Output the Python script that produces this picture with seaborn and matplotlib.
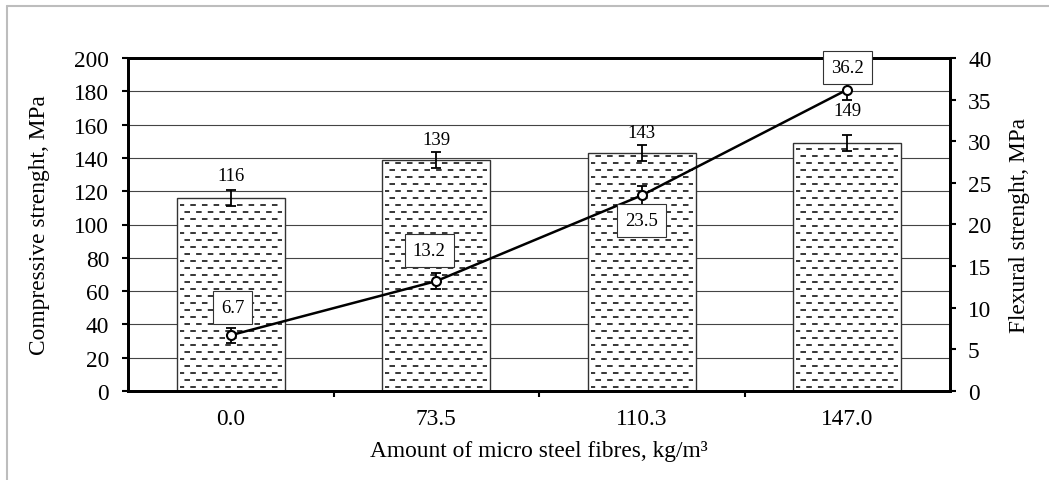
import numpy as np
import pandas as pd
import matplotlib
matplotlib.use('Agg')
import matplotlib.pyplot as plt
from matplotlib.lines import Line2D
import seaborn as sns

fibres = ['0.0', '73.5', '110.3', '147.0']
compressive = [116, 139, 143, 149]
compressive_err = [4.9, 4.8, 4.8, 4.6]
flexural = [6.7, 13.2, 23.5, 36.2]
flexural_err = [0.9, 1.0, 1.1, 1.2]

# label offsets in points (layout only)
bar_label_dy = [15.8, 14.4, 14.8, 23.0]
line_label_dxy = [(1.5, 20), (-5, 22), (0, -18), (0, 16)]

sns.set_theme(style='white', rc={'text.color': 'black', 'axes.labelcolor': 'black',
                                 'xtick.color': 'black', 'ytick.color': 'black'})
plt.rcParams['font.family'] = ['Liberation Serif', 'DejaVu Serif']
plt.rcParams['lines.scale_dashes'] = False

fs = 16.8
fig = plt.figure(figsize=(10.49, 4.81), dpi=100)
ax = fig.add_axes([128 / 1049, 1 - 392 / 481, 822 / 1049, 333 / 481])

df = pd.DataFrame({'fibres': fibres, 'compressive': compressive})
sns.barplot(data=df, x='fibres', y='compressive', ax=ax, color='white', saturation=1,
            width=0.525, edgecolor='#333333', linewidth=1, errorbar=None, zorder=2)

# dashed "brick" hatch inside the bars
step = 4.2
dash = (4.0, 4.4)
for patch in ax.patches:
    x0, w, h = patch.get_x(), patch.get_width(), patch.get_height()
    rows = np.arange(step * 0.55, h - step * 0.3, step)
    for k, yv in enumerate(rows):
        off = 1.0 if k % 2 == 0 else 1.0 + sum(dash) / 2
        ax.hlines(yv, x0 + 0.015, x0 + w - 0.015, colors='black', lw=1.1,
                  linestyles=[(off, dash)], zorder=3)

ax.errorbar(range(4), compressive, yerr=compressive_err, fmt='none', ecolor='black',
            elinewidth=1.3, capsize=3.6, capthick=1.3, zorder=4)

for i, v in enumerate(compressive):
    ax.annotate(str(v), (i, v), xytext=(0, bar_label_dy[i]), textcoords='offset points',
                ha='center', va='center', fontsize=13.5)

ax.set_ylim(0, 200)
ax.set_yticks(np.arange(0, 201, 20))
ax.set_xlim(-0.5, 3.5)
ax.yaxis.grid(True, color='#444444', lw=0.8)
ax.set_axisbelow(True)

ax2 = ax.twinx()
ax2.errorbar(range(4), flexural, yerr=flexural_err, fmt='none', ecolor='black',
             elinewidth=1.3, capsize=3.3, capthick=1.3, zorder=2)
sns.lineplot(x=np.arange(4), y=flexural, ax=ax2, color='black', lw=1.8, marker='o',
             markersize=6.5, markerfacecolor='white', markeredgecolor='black',
             markeredgewidth=1.5, zorder=3)
for i, v in enumerate(flexural):
    ax2.annotate(f'{v}', (i, v), xytext=line_label_dxy[i], textcoords='offset points',
                 ha='center', va='center', fontsize=13.5, zorder=5,
                 bbox=dict(boxstyle='square,pad=0.42', fc='white', ec='#333333', lw=0.8))
ax2.set_ylim(0, 40)
ax2.set_yticks(np.arange(0, 41, 5))
ax2.set_xlim(-0.5, 3.5)

ax.set_xticks(range(4), fibres)
ax.set_xticks([0.5, 1.5, 2.5], minor=True)
ax.tick_params(axis='x', which='major', length=0, pad=12, labelsize=fs)
ax.tick_params(axis='x', which='minor', bottom=True, length=4, width=1.5, color='black')
ax.tick_params(axis='y', left=True, length=4.5, width=1.5, pad=9, labelsize=fs)
ax2.tick_params(axis='y', right=True, length=4, width=1.5, pad=9, labelsize=fs)

for a in (ax, ax2):
    for s in a.spines.values():
        s.set_visible(True)
        s.set_color('black')
        s.set_linewidth(2)

ax.set_xlabel('Amount of micro steel fibres, kg/m³', fontsize=fs, va='center')
ax.xaxis.set_label_coords(0.5, (392 - 451) / 333)
ax.set_ylabel('Compressive strenght, MPa', fontsize=fs, va='center')
ax.yaxis.set_label_coords((40 - 128) / 822, 0.5)
ax2.set_ylabel('Flexural strenght, MPa', fontsize=fs, va='center', rotation=90)
ax2.yaxis.set_label_coords((1020 - 128) / 822, 0.5)

# light grey outer frame (cropped at right/bottom)
fig.add_artist(Line2D([7 / 1049, 7 / 1049], [0, 1 - 7 / 481], transform=fig.transFigure,
                      color='#bdbdbd', lw=1.5))
fig.add_artist(Line2D([7 / 1049, 1], [1 - 7 / 481, 1 - 7 / 481], transform=fig.transFigure,
                      color='#bdbdbd', lw=1.5))

fig.savefig('out.png', dpi=100)
